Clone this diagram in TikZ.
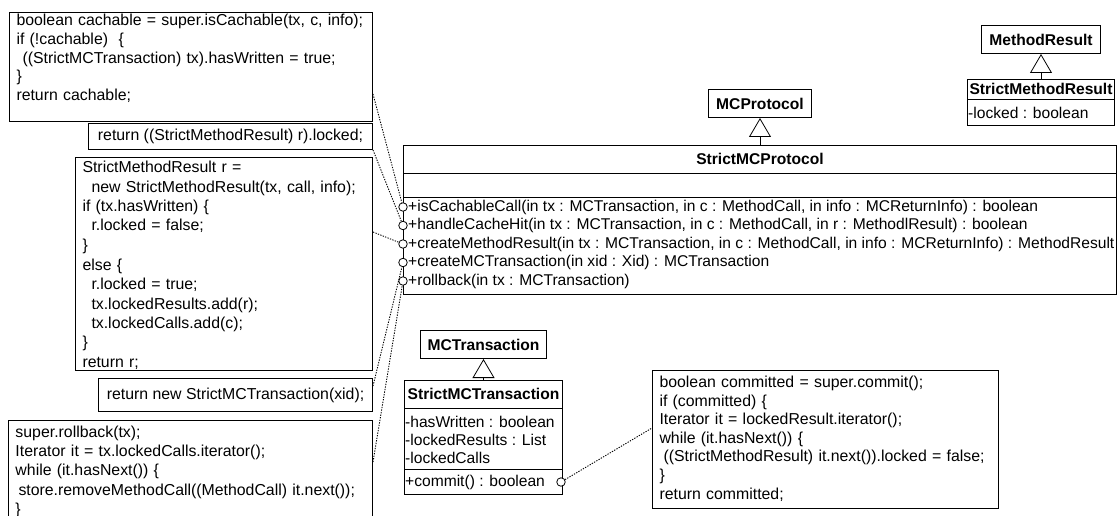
\documentclass[tikz,border=0pt]{standalone}
\usepackage{fontspec}
\setmainfont{Liberation Sans}
\usetikzlibrary{arrows.meta,positioning}

\tikzset{
  code/.style={font=\fontsize{15.85}{18.8}\selectfont},
  note/.style={code, draw, line width=1pt, anchor=north west, align=left,
    inner xsep=7pt, inner ysep=0pt},
  codeline/.style={code, draw, line width=1pt, anchor=north west, inner xsep=7pt, inner ysep=0pt},
  classbox/.style={draw, line width=1pt, anchor=north west, inner sep=0pt},
  clsname/.style={font=\fontsize{15.6}{18.4}\selectfont\bfseries, inner sep=0pt},
  superbox/.style={draw, line width=1pt, font=\fontsize{15.6}{18.4}\selectfont\bfseries,
    inner xsep=7.5pt, inner ysep=0pt, minimum height=28pt},
  member/.style={font=\fontsize{15.6}{18.4}\selectfont, anchor=west, inner xsep=1pt, inner ysep=0pt},
  port/.style={circle, draw, fill=white, line width=0.8pt, inner sep=0pt, minimum size=8.5pt},
  link/.style={line width=0.9pt, dash pattern=on 1.3pt off 1.3pt},
  inherit/.style={line width=0.8pt, -{Triangle[open, length=19pt, width=22pt]}},
}

\begin{document}
\begin{tikzpicture}[x=1pt,y=-1pt]
  \clip (0,0) rectangle (1119,516);
  \fill[white] (0,0) rectangle (1119,516);

  % code notes (left)
  \node[note, text width=349pt, text height=13pt, text depth=96pt] (nCache) at (9,12) {%
    boolean cachable = super.isCachable(tx, c, info);\\
    if (!cachable)\ \ \{\\
    \hspace*{6pt}((StrictMCTransaction) tx).hasWritten = true;\\
    \}\\
    return cachable;};
  \node[codeline, minimum width=284pt, minimum height=26pt] (nHit) at (88,123)
    {return ((StrictMethodResult) r).locked;};
  \node[note, font=\fontsize{15.85}{19.5}\selectfont, text width=283pt, text height=15pt, text depth=198pt]
    (nResult) at (75,157) {%
    StrictMethodResult r =\\
    \hspace*{9pt}new StrictMethodResult(tx, call, info);\\
    if (tx.hasWritten) \{\\
    \hspace*{9pt}r.locked = false;\\
    \}\\
    else \{\\
    \hspace*{9pt}r.locked = true;\\
    \hspace*{9pt}tx.lockedResults.add(r);\\
    \hspace*{9pt}tx.lockedCalls.add(c);\\
    \}\\
    return r;};
  \node[codeline, minimum width=274pt, minimum height=33pt] (nCreate) at (98,378)
    {return new StrictMCTransaction(xid);};
  \node[note, font=\fontsize{15.85}{19.2}\selectfont, text width=350pt, text height=17pt, text depth=130pt]
    (nRollback) at (8,420) {%
    super.rollback(tx);\\
    Iterator it = tx.lockedCalls.iterator();\\
    while (it.hasNext()) \{\\
    \hspace*{3pt}store.removeMethodCall((MethodCall) it.next());\\
    \}};

  % code note (commit)
  \node[note, font=\fontsize{15.85}{18.6}\selectfont, text width=332pt, text height=17pt, text depth=121pt]
    (nCommit) at (652,370) {%
    boolean committed = super.commit();\\
    if (committed) \{\\
    Iterator it = lockedResult.iterator();\\
    while (it.hasNext()) \{\\
    \hspace*{4pt}((StrictMethodResult) it.next()).locked = false;\\
    \}\\
    return committed;};

  % StrictMCProtocol
  \node[classbox, minimum width=713pt, minimum height=149pt] (strictProto) at (403,145) {};
  \node[clsname, minimum height=28pt, anchor=north] (spName) at (strictProto.north) {StrictMCProtocol};
  \node[inner sep=0pt, minimum height=24pt, anchor=north] (spAttr) at (spName.south) {};
  \draw[line width=1pt] (strictProto.west |- spName.south) -- (strictProto.east |- spName.south);
  \draw[line width=1pt] (strictProto.west |- spAttr.south) -- (strictProto.east |- spAttr.south);
  \foreach \m [count=\i] in
  {{+isCachableCall(in tx : MCTransaction, in c : MethodCall, in info : MCReturnInfo) : boolean},
   {+handleCacheHit(in tx : MCTransaction, in c : MethodCall, in r : MethodlResult) : boolean},
   {+createMethodResult(in tx : MCTransaction, in c : MethodCall, in info : MCReturnInfo) : MethodResult},
   {+createMCTransaction(in xid : Xid) : MCTransaction},
   {+rollback(in tx : MCTransaction)}}{
    \node[member] (m\i) at (407,{207+18.5*(\i-1)}) {\m};
    \node[port] (p\i) at (strictProto.west |- m\i) {};
  }
  \node[superbox, above=27pt of strictProto] (mcProto) {MCProtocol};
  \draw[inherit] (strictProto) -- (mcProto);

  % StrictMethodResult
  \node[classbox, minimum width=147pt, minimum height=46pt] (strictResult) at (967,79) {};
  \node[clsname, minimum height=20pt, anchor=north] (srName) at (strictResult.north) {StrictMethodResult};
  \draw[line width=1pt] (strictResult.west |- srName.south) -- (strictResult.east |- srName.south);
  \node[member] (srLocked) at (967,113) {-locked : boolean};
  \node[superbox, above=25pt of strictResult] (methodResult) {MethodResult};
  \draw[inherit] (strictResult) -- (methodResult);

  % StrictMCTransaction
  \node[classbox, minimum width=158pt, minimum height=114pt] (strictTx) at (404,380) {};
  \node[clsname, minimum height=28pt, anchor=north] (stName) at (strictTx.north) {StrictMCTransaction};
  \draw[line width=1pt] (strictTx.west |- stName.south) -- (strictTx.east |- stName.south);
  \foreach \a/\y in {{-hasWritten : boolean}/422, {-lockedResults : List}/440, {-lockedCalls}/458}{
    \node[member] at (404,\y) {\a};
  }
  \coordinate (stOps) at (404,469);
  \draw[line width=1pt] (stOps) -- (strictTx.east |- stOps);
  \node[member] (stCommit) at (404,482) {+commit() : boolean};
  \node[port] (pc) at ([xshift=-2pt]strictTx.east |- stCommit) {};
  \node[superbox, above=21pt of strictTx] (mcTx) {MCTransaction};
  \draw[inherit] (strictTx) -- (mcTx);

  % dotted links
  \draw[link] ([yshift=28pt]nCache.south east) -- (p1);
  \draw[link] (nHit.south east) -- (p2);
  \draw[link] ([yshift=-75pt]nResult.north east) -- (p3);
  \draw[link] ([yshift=-8pt]nCreate.north east) -- (p4);
  \draw[link] ([yshift=-42pt]nRollback.north east) -- (p5);
  \draw[link] (pc) -- ([yshift=-58pt]nCommit.north west);
\end{tikzpicture}
\end{document}
